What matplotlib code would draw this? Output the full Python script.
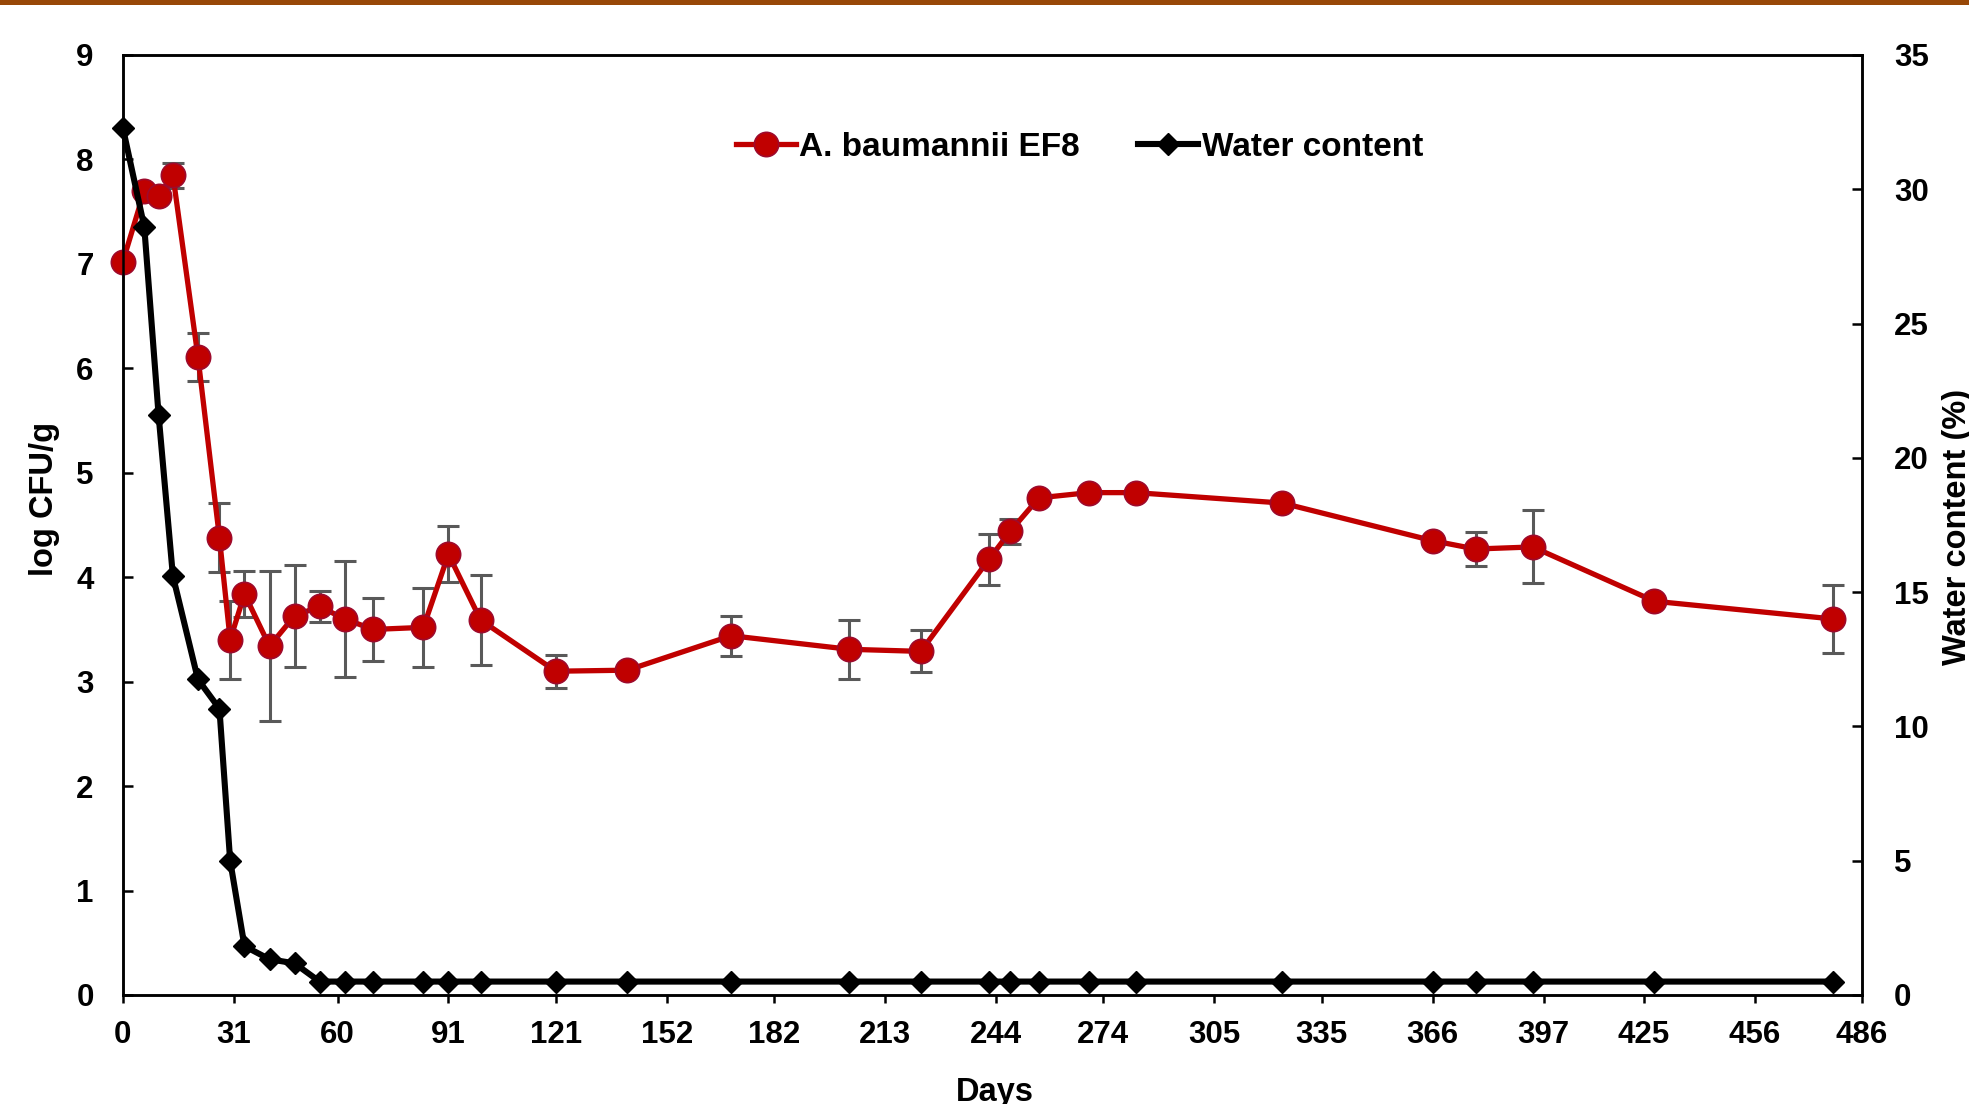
import matplotlib
matplotlib.use("Agg")
import matplotlib.pyplot as plt
from matplotlib.patches import Rectangle

plt.rcParams['font.family'] = ['Liberation Sans', 'DejaVu Sans']
plt.rcParams['font.weight'] = 'bold'

# Sampling days
days = [0, 6, 10, 14, 21, 27, 30, 34, 41, 48, 55, 62, 70, 84, 91, 100,
        121, 141, 170, 203, 223, 242, 248, 256, 270, 283, 324, 366, 378,
        394, 428, 478]

# A. baumannii EF8 counts (log CFU/g) and standard deviations
log_cfu = [7.02, 7.70, 7.65, 7.85, 6.11, 4.38, 3.40, 3.84, 3.34, 3.63,
           3.72, 3.60, 3.50, 3.52, 4.22, 3.59, 3.10, 3.11, 3.44, 3.31,
           3.29, 4.17, 4.44, 4.76, 4.81, 4.81, 4.71, 4.35, 4.27, 4.29,
           3.77, 3.60]
log_cfu_sd = [0.0, 0.0, 0.0, 0.12, 0.23, 0.33, 0.37, 0.22, 0.72, 0.49,
              0.15, 0.56, 0.30, 0.38, 0.27, 0.43, 0.16, 0.0, 0.19, 0.28,
              0.20, 0.24, 0.12, 0.0, 0.0, 0.0, 0.0, 0.0, 0.16, 0.35,
              0.0, 0.33]

# Water content (%)
water = [32.3, 28.6, 21.6, 15.6, 11.75, 10.66, 5.0, 1.82, 1.33, 1.18,
         0.5, 0.5, 0.5, 0.5, 0.5, 0.5, 0.5, 0.5, 0.5, 0.5,
         0.5, 0.5, 0.5, 0.5, 0.5, 0.5, 0.5, 0.5, 0.5, 0.5,
         0.5, 0.5]

x_ticks = [0, 31, 60, 91, 121, 152, 182, 213, 244, 274, 305, 335, 366,
           397, 425, 456, 486]
left_ticks = list(range(0, 10))
right_ticks = list(range(0, 40, 5))

W, H = 1969, 1104
fig = plt.figure(figsize=(W / 100, H / 100), dpi=100)

left_px, right_px, top_px, bottom_px = 122.8, 1862, 55, 995
ax = fig.add_axes([left_px / W, 1 - bottom_px / H,
                   (right_px - left_px) / W, (bottom_px - top_px) / H])
ax2 = ax.twinx()

FS = 22.5
red = '#C00000'

ax.errorbar(days, log_cfu, yerr=log_cfu_sd, fmt='none', ecolor='#595959',
            elinewidth=2.2, capsize=8, capthick=2.2, zorder=2, clip_on=False)
ln1, = ax.plot(days, log_cfu, color=red, lw=3.8, marker='o', ms=17.5,
               mfc=red, mec='#9E0A2C', mew=1.2, zorder=3, clip_on=False,
               label='A. baumannii EF8')
ln2, = ax2.plot(days, water, color='black', lw=4.4, marker='D', ms=11.5,
                mfc='black', mec='black', zorder=3, clip_on=False,
                label='Water content')

ax.set_xlim(0, 486)
ax.set_ylim(0, 9)
ax2.set_ylim(0, 35)
ax.set_xticks(x_ticks)
ax.set_yticks(left_ticks)
ax2.set_yticks(right_ticks)

for a in (ax, ax2):
    for s in a.spines.values():
        s.set_linewidth(1.8)
        s.set_color('black')

ax.tick_params(axis='x', direction='out', length=6, width=1.8, pad=12,
               labelsize=FS)
ax.tick_params(axis='y', direction='in', length=7, width=1.8, pad=21,
               labelsize=FS)
ax2.tick_params(axis='y', direction='in', length=7, width=1.8, pad=23,
                labelsize=FS)
for lab in ax.get_xticklabels() + ax.get_yticklabels() + ax2.get_yticklabels():
    lab.set_fontweight('bold')

fig.text(44 / W, 1 - 499 / H, 'log CFU/g', rotation=90, ha='center',
         va='center', fontsize=23.5, fontweight='bold')
fig.text(1942 / W, 1 - 527 / H, 'Water content (%)', rotation=90,
         ha='left', va='center', fontsize=23.5, fontweight='bold')
fig.text(995 / W, 3 / H, 'Days', ha='center', va='baseline',
         fontsize=23.5, fontweight='bold')

leg = fig.legend(handles=[ln1, ln2], loc='center left',
                 bbox_to_anchor=(736 / W, 1 - 147 / H), ncol=2, frameon=False,
                 prop={'size': 24, 'weight': 'bold'}, handlelength=1.8,
                 handletextpad=0.1, columnspacing=1.75, borderpad=0,
                 borderaxespad=0)

# brown band across the top edge
fig.add_artist(Rectangle((0, 1 - 5 / H), 1, 5 / H, transform=fig.transFigure,
                         color='#984807', lw=0, zorder=10))

fig.savefig('out.png', dpi=100)
